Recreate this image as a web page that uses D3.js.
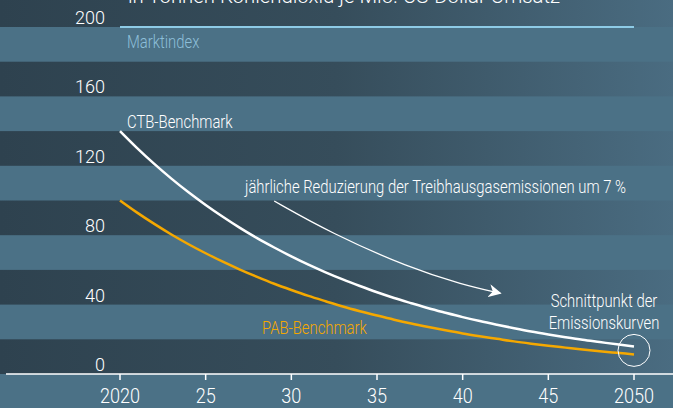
<!DOCTYPE html>
<html>
  <head>
  <title>CTB / PAB Benchmark</title>
  <style>
    body, html {
      margin: 0;
      padding: 0;
      background: #4b7186;
      overflow: hidden;
    }
    #svg {
      display: block;
    }
    text {
      font-family: Roboto, "Noto Sans", sans-serif;
      font-weight: 300;
    }
  </style>
  </head>
  <body>
    <svg id="svg" width="673" height="408"></svg>
  <script src="https://cdn.jsdelivr.net/npm/d3@7"></script>
  <script>
    const years = [2020, 2021, 2022, 2023, 2024, 2025, 2026, 2027, 2028, 2029, 2030,
      2031, 2032, 2033, 2034, 2035, 2036, 2037, 2038, 2039, 2040,
      2041, 2042, 2043, 2044, 2045, 2046, 2047, 2048, 2049, 2050]
    const ctb = [140, 130.2, 121.1, 112.6, 104.7, 97.4, 90.6, 84.2, 78.3, 72.9, 67.8,
      63.0, 58.6, 54.5, 50.7, 47.1, 43.8, 40.8, 37.9, 35.3, 32.8,
      30.5, 28.4, 26.4, 24.5, 22.8, 21.2, 19.7, 18.4, 17.1, 15.9]
    const pab = [100, 93.0, 86.5, 80.4, 74.8, 69.6, 64.7, 60.2, 56.0, 52.0, 48.4,
      45.0, 41.9, 38.9, 36.2, 33.7, 31.3, 29.1, 27.1, 25.2, 23.4,
      21.8, 20.3, 18.8, 17.5, 16.3, 15.2, 14.1, 13.1, 12.2, 11.3]
    const marktindex = [200, 200]
    const marktYears = [2020, 2050]
    const yTicks = [0, 40, 80, 120, 160, 200]
    const xTicks = [2020, 2025, 2030, 2035, 2040, 2045, 2050]
    const xTickLabels = ["2020", "25", "30", "35", "40", "45", "2050"]
    const darkBands = [[0, 20], [40, 60], [80, 100], [120, 140], [160, 180], [200, 220]]
    // arrow annotation in data units (year, value)
    const arrowYears = [2029.0, 2032.3, 2036.9, 2040.0, 2042.2]
    const arrowValues = [99.7, 81.3, 61.1, 51.5, 46.5]

    const W = 673, H = 408
    const xScale = d3.scaleLinear().domain([2020, 2050]).range([120, 634])
    const yScale = d3.scaleLinear().domain([0, 200]).range([374, 27])

    const svg = d3.select('#svg')

    // squeeze text horizontally to imitate a condensed face
    function squeeze(sel, k) {
      sel.each(function () {
        const w = this.getComputedTextLength()
        d3.select(this).attr("textLength", w * k).attr("lengthAdjust", "spacingAndGlyphs")
      })
    }

    const defs = svg.append("defs")
    const grad = defs.append("linearGradient")
      .attr("id", "darkGrad")
      .attr("gradientUnits", "userSpaceOnUse")
      .attr("x1", 0).attr("x2", W).attr("y1", 0).attr("y2", 0)
    grad.append("stop").attr("offset", "0%").attr("stop-color", "#2e424f")
    grad.append("stop").attr("offset", "50%").attr("stop-color", "#364d5b")
    grad.append("stop").attr("offset", "100%").attr("stop-color", "#4a6c81")

    svg.append("rect")
      .attr("width", W).attr("height", H)
      .attr("fill", "#4b7186")

    svg.selectAll(".band")
      .data(darkBands)
      .enter().append("rect")
      .attr("class", "band")
      .attr("x", 0)
      .attr("width", W)
      .attr("y", d => yScale(d[1]))
      .attr("height", d => yScale(d[0]) - yScale(d[1]))
      .attr("fill", "url(#darkGrad)")

    // title (cut off at top)
    svg.append("text")
      .attr("x", 128)
      .attr("y", 3)
      .attr("fill", "#ffffff")
      .style("font-size", "20px")
      .attr("textLength", 432)
      .attr("lengthAdjust", "spacingAndGlyphs")
      .text("in Tonnen Kohlendioxid je Mio. US-Dollar Umsatz")

    // y labels
    svg.selectAll(".ylab")
      .data(yTicks)
      .enter().append("text")
      .attr("class", "ylab")
      .attr("x", 105)
      .attr("y", d => yScale(d) - 3)
      .attr("text-anchor", "end")
      .attr("fill", "#ffffff")
      .style("font-size", "19px")
      .text(d => d)
      .call(squeeze, 0.95)

    // x axis
    svg.append("line")
      .attr("x1", 6).attr("x2", W)
      .attr("y1", yScale(0)).attr("y2", yScale(0))
      .attr("stroke", "#ffffff").attr("stroke-width", 1.5)

    svg.selectAll(".xtick")
      .data(xTicks)
      .enter().append("line")
      .attr("class", "xtick")
      .attr("x1", d => xScale(d)).attr("x2", d => xScale(d))
      .attr("y1", yScale(0)).attr("y2", yScale(0) + 6)
      .attr("stroke", "#ffffff").attr("stroke-width", 1.5)

    svg.selectAll(".xlab")
      .data(xTicks)
      .enter().append("text")
      .attr("class", "xlab")
      .attr("x", d => xScale(d))
      .attr("y", 403)
      .attr("text-anchor", "middle")
      .attr("fill", "#ffffff")
      .style("font-size", "21px")
      .text((d, i) => xTickLabels[i])
      .call(squeeze, 0.86)

    const line = d3.line()
      .x(d => xScale(d[0]))
      .y(d => yScale(d[1]))
      .curve(d3.curveMonotoneX)

    // Marktindex
    svg.append("path")
      .datum(marktYears.map((y, i) => [y, marktindex[i]]))
      .attr("d", line)
      .attr("fill", "none")
      .attr("stroke", "#8ecbe6")
      .attr("stroke-width", 2)

    // PAB
    svg.append("path")
      .datum(years.map((y, i) => [y, pab[i]]))
      .attr("d", line)
      .attr("fill", "none")
      .attr("stroke", "#f5a800")
      .attr("stroke-width", 2.5)

    // CTB
    svg.append("path")
      .datum(years.map((y, i) => [y, ctb[i]]))
      .attr("d", line)
      .attr("fill", "none")
      .attr("stroke", "#ffffff")
      .attr("stroke-width", 2.5)

    // arrow
    defs.append("marker")
      .attr("id", "arrowHead")
      .attr("viewBox", "0 0 10 10")
      .attr("refX", 9).attr("refY", 5)
      .attr("markerUnits", "userSpaceOnUse")
      .attr("markerWidth", 13).attr("markerHeight", 13)
      .attr("orient", "auto")
      .append("path")
      .attr("d", "M0,0 L10,5 L0,10 L3,5 Z")
      .attr("fill", "#ffffff")

    svg.append("path")
      .datum(arrowYears.map((y, i) => [y, arrowValues[i]]))
      .attr("d", d3.line().x(d => xScale(d[0])).y(d => yScale(d[1])).curve(d3.curveBasis))
      .attr("fill", "none")
      .attr("stroke", "#ffffff")
      .attr("stroke-width", 1.3)
      .attr("marker-end", "url(#arrowHead)")

    // intersection circle
    svg.append("circle")
      .attr("cx", xScale(2050))
      .attr("cy", yScale((ctb[30] + pab[30]) / 2))
      .attr("r", 16)
      .attr("fill", "none")
      .attr("stroke", "#ffffff")
      .attr("stroke-width", 1)

    const labels = [
      { text: "Marktindex", x: 127, y: 48, color: "#8dbfd9", anchor: "start" },
      { text: "CTB-Benchmark", x: 127, y: 127.5, color: "#ffffff", anchor: "start" },
      { text: "jährliche Reduzierung der Treibhausgasemissionen um 7 %", x: 245, y: 193, color: "#ffffff", anchor: "start" },
      { text: "PAB-Benchmark", x: 262, y: 334, color: "#f5a800", anchor: "start" },
      { text: "Schnittpunkt der", x: 604, y: 307, color: "#ffffff", anchor: "middle" },
      { text: "Emissionskurven", x: 604, y: 329, color: "#ffffff", anchor: "middle" }
    ]

    svg.selectAll(".lab")
      .data(labels)
      .enter().append("text")
      .attr("class", "lab")
      .attr("x", d => d.x)
      .attr("y", d => d.y)
      .attr("text-anchor", d => d.anchor)
      .attr("fill", d => d.color)
      .style("font-size", "19px")
      .text(d => d.text)
      .call(squeeze, 0.78)
  </script>
  </body>
</html>
